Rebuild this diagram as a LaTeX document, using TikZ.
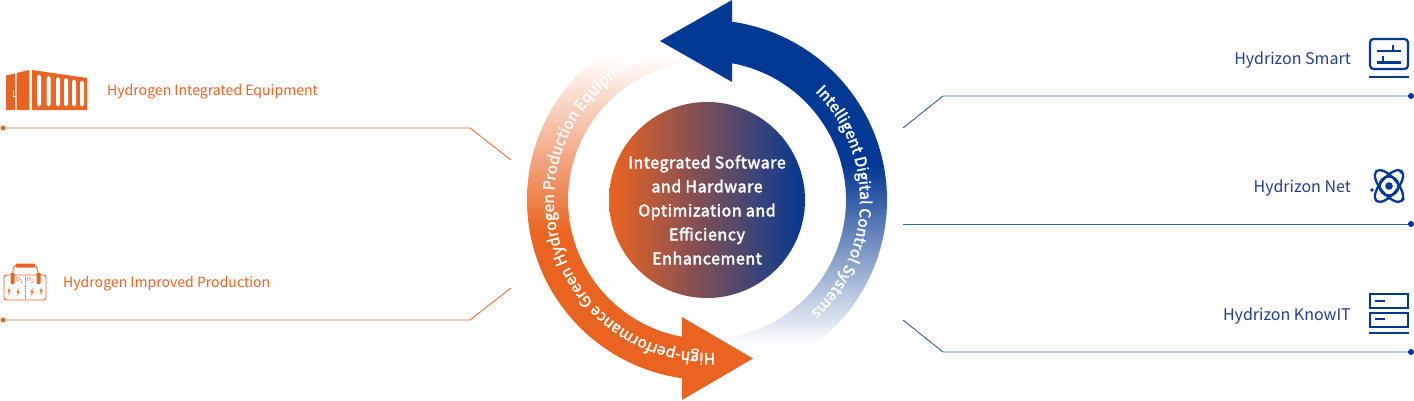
\documentclass[tikz,border=0pt]{standalone}
\usepackage{fontspec}
\setmainfont{Noto Sans CJK SC}
\newfontfamily\medfont[FakeBold=2.6,LetterSpace=3.6]{Noto Sans CJK SC}
\newfontfamily\bandfam[FakeBold=2]{Noto Sans CJK SC}
\usetikzlibrary{decorations.text}
\definecolor{org}{HTML}{EB6320}
\definecolor{blu}{HTML}{023994}
\definecolor{lab}{HTML}{1F3F8F}
\tikzset{
  orgline/.style={draw=org,line width=0.8pt},
  bluline/.style={draw=blu!80!white,line width=0.9pt},
  orgdot/.style={circle,fill=org,inner sep=0pt,minimum size=5pt},
  bludot/.style={circle,fill=blu,inner sep=0pt,minimum size=6pt},
  orglabel/.style={font=\fontsize{14.06}{16}\selectfont,text=org,inner sep=0pt,anchor=west},
  blulabel/.style={font=\fontsize{16}{17}\selectfont,text=lab,inner sep=0pt,anchor=east},
  icon/.style={draw=blu,line width=2.2pt},
  iconb/.style={draw=blu,line width=2.8pt},
  atomline/.style={draw=blu,line width=2.3pt},
  bat/.style={draw=org,line width=0.9pt},
}
\newcommand{\bandfont}{\bandfam\fontsize{15.5}{17}\selectfont}
\newcommand{\boltat}[2]{\fill[org,shift={(#1,#2)}] (0.8,4) -- (-1.6,-0.4) -- (-0.2,-0.4) -- (-0.8,-4) -- (1.6,0.6) -- (0.2,0.6) -- cycle;}
\begin{document}
\begin{tikzpicture}[x=1pt,y=1pt]
\useasboundingbox (0,0) rectangle (1414,400);
% blue band
\begin{scope}[shift={(707,200)}]
  \begin{scope}
    \clip (25,200) -- (-47,159) -- (25,118) -- (79.6:139) arc[start angle=79.6,end angle=-92,radius=139pt]
      -- (-92:180) arc[start angle=-92,end angle=82,radius=180pt] -- cycle;
    \fill[blu] (-60,34.5) rectangle (200,201);
    \shade[top color=blu,bottom color=white] (-60,-145) rectangle (200,35);
  \end{scope}
  % orange band
  \begin{scope}
    \clip (-25,-200) -- (46,-158.5) -- (-25,-117) -- (259.6:139) arc[start angle=259.6,end angle=100,radius=139pt]
      -- (100:180) arc[start angle=100,end angle=262,radius=180pt] -- cycle;
    \fill[org] (-200,-201) rectangle (60,-34.5);
    \shade[bottom color=org,top color=white] (-200,-35) rectangle (60,145);
  \end{scope}
  \path[decorate,decoration={text along path,text align=left,
    text={|\bandfont\color{white}|Intelligent Digital Control Systems}}]
    (45:153) arc[start angle=45,end angle=-80,radius=153pt];
  \path[decorate,decoration={text along path,text align=left,
    text={|\bandfont\color{white}|High-performance Green Hydrogen Production Equipment}}]
    (273:153) arc[start angle=273,end angle=40,radius=153pt];
\end{scope}
% core
\node[circle,minimum size=196pt,inner sep=0pt,left color=org,right color=blu] (core) at (707,200) {};
\node[text=white,align=center,inner sep=0pt,font=\medfont\fontsize{16}{24}\selectfont] (coretext) at (707,190)
  {Integrated Software\\and Hardware\\Optimization and\\Efficiency\\Enhancement};
% connectors
\node[orgdot] (l1) at (3,272) {};
\coordinate (l1a) at (470,272);
\coordinate (l1b) at (511,240);
\draw[orgline] (l1) -- (l1a) -- (l1b);
\node[orgdot] (l2) at (3,80) {};
\coordinate (l2a) at (470,80);
\coordinate (l2b) at (511,112);
\draw[orgline] (l2) -- (l2a) -- (l2b);
\node[bludot] (r1) at (1411,304) {};
\coordinate (r1a) at (943,304);
\coordinate (r1b) at (903,272);
\draw[bluline] (r1) -- (r1a) -- (r1b);
\node[bludot] (r2) at (1411,176) {};
\coordinate (r2a) at (903,176);
\draw[bluline] (r2) -- (r2a);
\node[bludot] (r3) at (1411,48) {};
\coordinate (r3a) at (943,48);
\coordinate (r3b) at (903,80);
\draw[bluline] (r3) -- (r3a) -- (r3b);
% labels
\node[orglabel] (t1) at (107,308) {Hydrogen Integrated Equipment};
\node[orglabel] (t2) at (63,116) {Hydrogen Improved Production};
\node[blulabel] (t3) at (1351,340) {Hydrizon Smart};
\node[blulabel] (t4) at (1351,212) {Hydrizon Net};
\node[blulabel] (t5) at (1351,84) {Hydrizon KnowIT};
% container icon
\fill[org] (6,324.5) -- (15,326.5) -- (15,290) -- (6,290) -- cycle;
\fill[org] (16.5,327) -- (29,330) -- (29,290) -- (16.5,290) -- cycle;
\fill[org] (32,330) -- (87,322) -- (87,290) -- (32,290) -- cycle;
\foreach \xa/\ya in {37/326,46.5/324.5,56/323.5,64/322.5,72/321,80/320}
  \fill[white,rounded corners=1.8pt] (\xa,293.5) rectangle (\xa+4,\ya-0.5);
\draw[white,line width=0.7pt] (13.5,310) -- (13.5,304) -- (15,304);
% battery icon
\draw[bat,rounded corners=2.5pt] (4,125) rectangle (46,100);
\draw[bat,rounded corners=3pt] (12.5,126) -- (14,135) -- (36,135) -- (38.5,126);
\fill[org,rounded corners=0.8pt] (16,132.5) rectangle (35,136.5);
\fill[org,rounded corners=0.8pt] (10.5,116) rectangle (14.5,127);
\fill[org,rounded corners=0.8pt] (36.5,116) rectangle (40.5,127);
\node[inner sep=0pt,text=org,font=\fontsize{6}{6}\selectfont] (o2) at (19.5,119.5) {O\textsubscript{2}};
\node[inner sep=0pt,text=org,font=\fontsize{6}{6}\selectfont] (h2) at (30.5,119.5) {H\textsubscript{2}};
\draw[org,line width=0.7pt,densely dotted] (25,124) -- (25,101);
\boltat{9}{109}
\boltat{18}{108}
\boltat{32}{108}
\boltat{41}{109}
% monitor icon
\draw[icon,rounded corners=3.5pt] (1370,361) rectangle (1408,331);
\draw[iconb] (1369,323) -- (1409,323);
\draw[icon] (1377,349) -- (1401,349);
\draw[icon] (1393,355) -- (1393,349);
\draw[icon] (1377,337.5) -- (1401,337.5);
\draw[icon] (1383,344) -- (1383,337.5);
% atom icon
\begin{scope}[shift={(1389,214)}]
  \fill[blu] (0,0) circle[radius=3.8pt];
  \draw[atomline] (0,0) circle[radius=9.5pt];
  \draw[atomline,rotate=50] (0,0) ellipse[x radius=19.5pt,y radius=8.5pt];
  \draw[atomline,rotate=-50] (0,0) ellipse[x radius=19.5pt,y radius=8.5pt];
  \fill[blu] (-17,-4) circle[radius=1.8pt];
  \fill[blu] (12,14) circle[radius=1.8pt];
  \fill[blu] (14,-13) circle[radius=1.8pt];
\end{scope}
% server icon
\draw[icon] (1370,106) rectangle (1408,92);
\draw[icon] (1370,87) rectangle (1408,73);
\draw[iconb] (1369,67) -- (1409,67);
\draw[icon] (1375,99) -- (1385,99);
\draw[icon] (1375,81) -- (1385,81);
\end{tikzpicture}
\end{document}
